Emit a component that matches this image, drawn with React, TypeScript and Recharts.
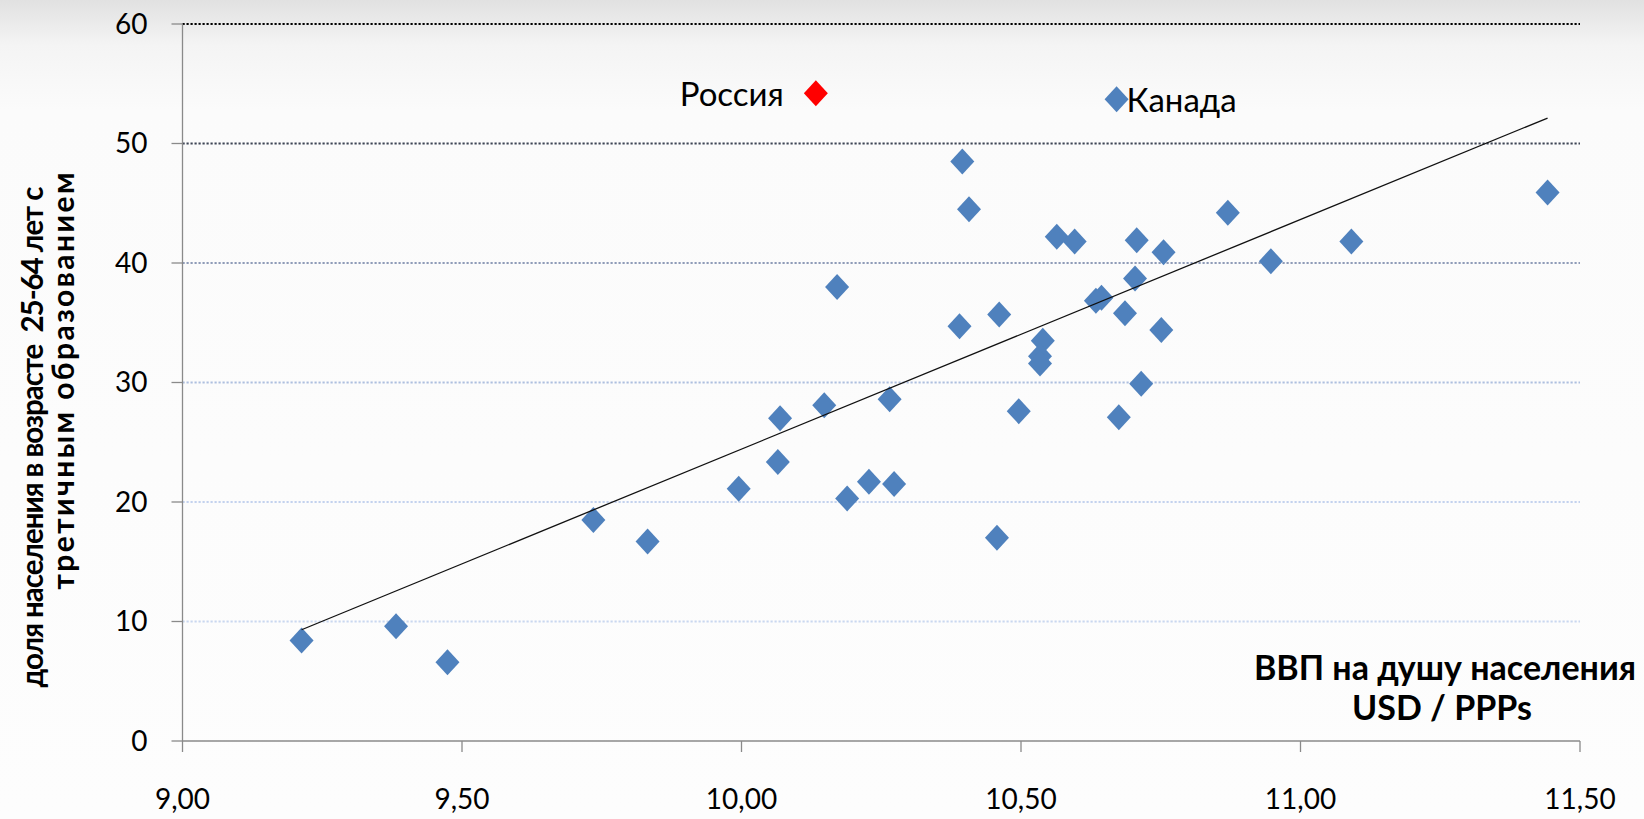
import { ReferenceLine, Scatter, ScatterChart, XAxis, YAxis } from 'recharts'

// log GDP per capita (USD / PPPs) and share of 25-64 y.o. with tertiary education
const gdpLog = [
  9.213, 9.382, 9.474, 9.735, 9.832, 9.995, 10.065, 10.069, 10.148, 10.171,
  10.189, 10.228, 10.265, 10.273, 10.39, 10.395, 10.407, 10.457, 10.461, 10.496,
  10.539, 10.534, 10.534, 10.564, 10.596, 10.634, 10.644, 10.675, 10.686, 10.704,
  10.707, 10.715, 10.751, 10.755, 10.87, 10.947, 11.091, 11.442,
]
const tertiaryShare = [
  8.4, 9.6, 6.6, 18.5, 16.7, 21.1, 23.35, 27.0, 28.1, 38.0,
  20.3, 21.7, 28.6, 21.5, 34.7, 48.5, 44.5, 17.0, 35.7, 27.6,
  33.5, 32.2, 31.6, 42.2, 41.8, 36.85, 37.1, 27.1, 35.8, 38.7,
  41.9, 29.9, 34.4, 40.9, 44.2, 40.15, 41.8, 45.9,
]

const canada = [{ name: 'Канада', x: 10.671, y: 53.7 }]
const russia = [{ name: 'Россия', x: 10.133, y: 54.2 }]

// trend line end points
const trendX = [9.213, 11.442]
const trendY = [9.31, 52.13]

const xTicks = [9, 9.5, 10, 10.5, 11, 11.5]
const yTicks = [0, 10, 20, 30, 40, 50, 60]
const gridValues = [10, 20, 30, 40, 50, 60]

const gridColors: Record<number, string> = {
  10: '#c9d7f0',
  20: '#c3d2ee',
  30: '#aebfdf',
  40: '#8f9cb8',
  50: '#3d4454',
  60: '#000000',
}

const points = gdpLog.map((x, i) => ({ x, y: tertiaryShare[i] }))
const trend = trendX.map((x, i) => ({ x, y: trendY[i] }))

const FONT = 'Lato, "Open Sans", sans-serif'

const diamondPath = (cx: number, cy: number) =>
  `M${cx},${cy - 13}L${cx + 12},${cy}L${cx},${cy + 13}L${cx - 12},${cy}Z`

const Diamond = (props: any) => {
  const { cx, cy, fill } = props
  return <path d={diamondPath(cx, cy)} fill={fill} />
}

const RightLabelDiamond = (props: any) => {
  const { cx, cy, fill, payload } = props
  return (
    <g>
      <path d={diamondPath(cx, cy)} fill={fill} />
      <text x={cx + 10} y={cy + 13} fontSize={33} fontFamily={FONT} fill="#000">
        {payload.name}
      </text>
    </g>
  )
}

const LeftLabelDiamond = (props: any) => {
  const { cx, cy, fill, payload } = props
  return (
    <g>
      <path d={diamondPath(cx, cy)} fill={fill} />
      <text x={cx - 32} y={cy + 13} fontSize={33} fontFamily={FONT} fill="#000" textAnchor="end">
        {payload.name}
      </text>
    </g>
  )
}

const fmt = (v: number) => v.toFixed(2).replace('.', ',')

export default function App() {
  return (
    <div
      style={{
        position: 'relative',
        width: 1644,
        height: 819,
        background: 'linear-gradient(#e1e1e1 0px, #f4f4f4 45px, #fbfbfb 110px, #fdfdfd 100%)',
      }}
    >
      <style>{'body{margin:0}'}</style>
      <ScatterChart width={1644} height={819} margin={{ top: 24, right: 64, bottom: 0, left: 0 }}>
        <XAxis
          type="number"
          dataKey="x"
          domain={[9, 11.5]}
          ticks={xTicks}
          tickFormatter={fmt}
          allowDataOverflow
          height={78}
          tickSize={11}
          tickMargin={37}
          stroke="#8a8a8a"
          strokeWidth={1.3}
          tick={{ fill: '#000', fontSize: 28, fontFamily: FONT }}
        />
        <YAxis
          type="number"
          dataKey="y"
          domain={[0, 60]}
          ticks={yTicks}
          allowDataOverflow
          width={182.5}
          tickSize={11}
          tickMargin={24}
          stroke="#8a8a8a"
          strokeWidth={1.3}
          tick={{ fill: '#000', fontSize: 28, fontFamily: FONT }}
        />
        {gridValues.map((v) => (
          <ReferenceLine
            key={v}
            y={v}
            stroke={gridColors[v]}
            strokeWidth={v >= 50 ? 2 : 1.8}
            strokeDasharray="2.2 1.8"
          />
        ))}
        <Scatter data={points} fill="#4f81bd" shape={Diamond} isAnimationActive={false} />
        <Scatter data={canada} fill="#4f81bd" shape={RightLabelDiamond} isAnimationActive={false} />
        <Scatter data={russia} fill="#ff0000" shape={LeftLabelDiamond} isAnimationActive={false} />
        <Scatter
          data={trend}
          line={{ stroke: '#111', strokeWidth: 1.3 }}
          shape={() => <g />}
          isAnimationActive={false}
        />
      </ScatterChart>
      <svg
        width={1644}
        height={819}
        style={{ position: 'absolute', left: 0, top: 0, pointerEvents: 'none' }}
      >
        <g fontFamily={FONT} fontWeight="bold" fill="#000">
          <text
            transform="translate(31,437) rotate(-90)"
            textAnchor="middle"
            dominantBaseline="central"
            fontSize={29.5}
            textLength={501}
            lengthAdjust="spacing"
            style={{ whiteSpace: 'pre' }}
          >
            доля населения в возрасте  25-64 лет с
          </text>
          <text
            transform="translate(62,381) rotate(-90)"
            textAnchor="middle"
            dominantBaseline="central"
            fontSize={30}
            textLength={417}
            lengthAdjust="spacing"
          >
            третичным образованием
          </text>
          <text x={1445} y={680} textAnchor="middle" fontSize={34}>
            ВВП на душу населения
          </text>
          <text x={1442} y={720} textAnchor="middle" fontSize={34}>
            USD / PPPs
          </text>
        </g>
      </svg>
    </div>
  )
}
